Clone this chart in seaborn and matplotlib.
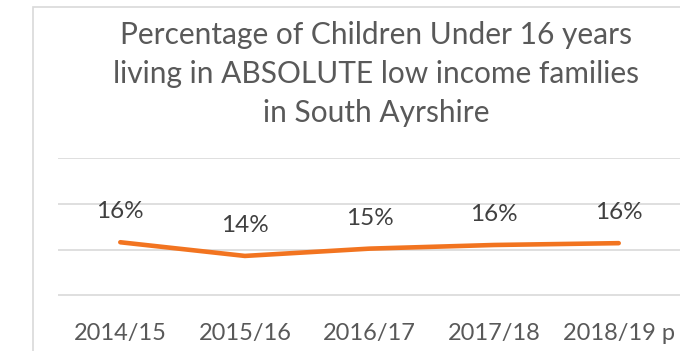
import matplotlib
matplotlib.use("Agg")
import matplotlib.pyplot as plt
from matplotlib.patches import Rectangle
import seaborn as sns
import pandas as pd

# Child poverty (absolute low income) share by financial year
years = ["2014/15", "2015/16", "2016/17", "2017/18", "2018/19 p"]
share = [0.158, 0.143, 0.151, 0.155, 0.157]
title_lines = [
    "Percentage of Children Under 16 years",
    "living in ABSOLUTE low income families",
    "in South Ayrshire",
]
y_grid = [0.10, 0.15, 0.20, 0.25]

sns.set_theme(style="white")
plt.rcParams["font.family"] = ["Lato", "DejaVu Sans"]

GRID = "#d9d9d9"
TEXT = "#595959"
ORANGE = "#F27420"

df = pd.DataFrame({"year": years, "share": share})

fig = plt.figure(figsize=(6.8, 3.51), dpi=100)
ax = fig.add_axes([58 / 680, 1 - 295.5 / 351, 623 / 680, (295.5 - 158) / 351])

sns.lineplot(data=df, x="year", y="share", sort=False, ax=ax,
             color=ORANGE, linewidth=3.3, solid_capstyle="round")

ax.set_xlim(-0.5, len(years) - 0.5)
ax.set_ylim(y_grid[0] - 0.0004, y_grid[-1] + 0.0004)
ax.set_yticks(y_grid)
ax.set_yticklabels([])
ax.tick_params(axis="y", length=0)
ax.tick_params(axis="x", length=0, pad=20, labelsize=17, labelcolor=TEXT)
ax.yaxis.grid(True, color=GRID, linewidth=1.2)
ax.xaxis.grid(False)
for s in ax.spines.values():
    s.set_visible(False)
ax.set_xlabel("")
ax.set_ylabel("")
ax.patch.set_alpha(0)

# data labels above each point
for i, v in enumerate(share):
    ax.annotate(f"{v:.0%}", xy=(i, v), xytext=(0, 22), textcoords="offset points",
                ha="center", va="center", fontsize=17.5, color="#404040")

# chart title
fig.text(376 / 680, 1 - 74 / 351, "\n".join(title_lines), ha="center", va="center",
         fontsize=21.5, color=TEXT, linespacing=1.49)

# chart-area border
fig.patches.append(Rectangle((33 / 680, -0.5), 2, 1 - 7 / 351 + 0.5,
                             transform=fig.transFigure, fill=False,
                             edgecolor=GRID, linewidth=1.2))

fig.savefig("out.png", dpi=100)
